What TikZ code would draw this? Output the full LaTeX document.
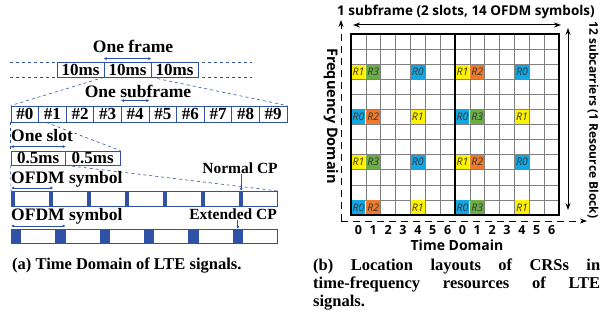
\documentclass[tikz,border=0pt]{standalone}
\usepackage{fontspec}
\setmainfont{Liberation Serif}
\setsansfont{Open Sans}
\usepackage{tikz}
\usetikzlibrary{arrows, arrows.meta, calc}
\definecolor{lteblue}{HTML}{2F52A6}
\definecolor{crsyellow}{HTML}{FFF200}
\definecolor{crsgreen}{HTML}{6AAE45}
\definecolor{crsblue}{HTML}{12A6E3}
\definecolor{crsorange}{HTML}{EE7A2C}

\begin{document}
\begin{tikzpicture}
        [
          x=1pt, y=-1pt,
          hd/.style={font=\bfseries\fontsize{17.5}{18}\selectfont, inner sep=0pt},
          msbox/.style={draw=lteblue, line width=0.8pt, minimum height=15pt, inner sep=0pt,
            font=\bfseries\fontsize{17}{18}\selectfont},
          dashline/.style={lteblue, dashed, line width=0.6pt},
          barrow/.style={lteblue, line width=0.9pt, {Latex[length=3pt,width=3pt]}-{Latex[length=3pt,width=3pt]}},
          downarrow/.style={lteblue, line width=0.9pt, -{Latex[length=3pt,width=3pt]}},
          cpbar/.style={fill=lteblue, draw=none, inner sep=0pt},
          symbox/.style={draw=lteblue, line width=0.9pt, inner sep=0pt},
          crs/.style={minimum width=14pt, minimum height=14pt, inner sep=0pt,
            font=\sffamily\itshape\fontsize{10.5}{11}\selectfont, text=black!80},
          sflabel/.style={font=\sffamily\bfseries\fontsize{13.5}{14}\selectfont, inner sep=0pt},
          bigarrow/.style={line width=1pt, -{Stealth[length=7pt,width=5pt]}},
          captext/.style={font=\bfseries\fontsize{16.5}{18}\selectfont, inner sep=0pt}
        ]
        \useasboundingbox (0,0) rectangle (600,329);
        % frame
        \node [hd] (oneframe) at (133,46) {One frame};
        \draw [dashline] (10,62) -- (252,62);
        \draw [dashline] (10,77) -- (252,77);
        \foreach \i in {0,1,2} {
            \node [msbox, minimum width=47pt, fill=white] (f\i) at (80.5+47*\i,69.5) {10ms};
        }
        \draw [barrow] ([yshift=3pt]f1.north west) -- ([yshift=3pt]f1.north east);
        % subframes
        \foreach \i in {0,...,9} {
            \node [msbox, minimum width=27.6pt, minimum height=16pt] (s\i) at (24.8+27.6*\i,114) {\#\i};
        }
        \node [hd] (onesub) at (138,91) {One subframe};
        \draw [barrow] ([yshift=5pt]s4.north west) -- ([yshift=5pt]s4.north east);
        \draw [dashline] (f1.south west) -- (s0.north west);
        \draw [dashline] (f1.south east) -- (s9.north east);
        % slots
        \foreach \i in {0,1} {
            \node [msbox, minimum width=54.5pt, minimum height=14pt] (t\i) at (38.25+54.5*\i,158) {0.5ms};
        }
        \node [hd, anchor=west] (oneslot) at (11,136) {One slot};
        \draw [barrow] ([yshift=4pt]t0.north west) -- ([yshift=4pt]t0.north east);
        \draw [dashline] ([xshift=8pt]s1.south west) -- (t1.north east);
        \draw [dashline] (s0.south west) -- (t0.north west);
        % normal CP symbols
        \foreach \i in {0,...,6} {
            \node [symbox, minimum width=38pt, minimum height=15pt, anchor=north west] (n\i) at (11+38*\i,191) {};
            \node [cpbar, minimum width=4pt, minimum height=15pt, anchor=north west] (nc\i) at (11+38*\i,191) {};
        }
        \draw [dashline] (t0.south east) -- (n6.north east);
        \draw [dashline] (t0.south west) -- (n0.north west);
        \node [hd, anchor=west] (ofdm1) at (11,179) {OFDM symbol};
        \draw [barrow] ([yshift=3pt]n0.north west) -- ([yshift=3pt]nc1.north east);
        \node [hd, font=\bfseries\fontsize{15.5}{16}\selectfont] (normalcp) at (240,168) {Normal CP};
        \draw [downarrow] (normalcp.south -| nc6) -- (nc6.north);
        % extended CP symbols
        \foreach \i in {0,...,5} {
            \node [symbox, minimum width=44.33pt, minimum height=14pt, anchor=north west] (e\i) at (11+44.33*\i,229) {};
            \node [cpbar, minimum width=10pt, minimum height=14pt, anchor=north west] (ec\i) at (11+44.33*\i,229) {};
        }
        \node [hd, anchor=west] (ofdm2) at (11,216) {OFDM symbol};
        \draw [barrow] ([yshift=3pt]e0.north west) -- ([yshift=3pt]ec1.north east);
        \node [hd, font=\bfseries\fontsize{15.5}{16}\selectfont, anchor=east] (extcp) at (277,214) {Extended CP};
        \draw [downarrow] (extcp.south -| ec5) -- (ec5.north);
        % resource grid
        \begin{scope}[shift={(351,34)}, x=14.86pt, y=-15.08pt]
            \foreach \r in {1,...,11} {
                \draw [black!50, line width=0.6pt] (0,\r) -- (14,\r);
            }
            \foreach \c in {1,...,13} {
                \draw [black!50, line width=0.6pt] (\c,0) -- (\c,12);
            }
            \foreach \c/\r/\col/\t in {0/2/crsyellow/R1, 1/2/crsgreen/R3, 4/2/crsblue/R0,
                7/2/crsyellow/R1, 8/2/crsorange/R2, 11/2/crsblue/R0,
                0/5/crsblue/R0, 1/5/crsorange/R2, 4/5/crsyellow/R1,
                7/5/crsblue/R0, 8/5/crsgreen/R3, 11/5/crsyellow/R1,
                0/8/crsyellow/R1, 1/8/crsgreen/R3, 4/8/crsblue/R0,
                7/8/crsyellow/R1, 8/8/crsorange/R2, 11/8/crsblue/R0,
                0/11/crsblue/R0, 1/11/crsorange/R2, 4/11/crsyellow/R1,
                7/11/crsblue/R0, 8/11/crsgreen/R3, 11/11/crsyellow/R1} {
                \node [crs, fill=\col] (r\c-\r) at (\c+0.5,\r+0.5) {\t};
            }
            \draw [line width=1.3pt] (0,0) rectangle (14,12);
            \draw [line width=1.3pt] (7,0) -- (7,12);
            \foreach \c in {0,...,6} {
                \node [sflabel, font=\sffamily\bfseries\fontsize{12.5}{13}\selectfont] (xa\c) at (\c+0.5,12.98) {\c};
                \node [sflabel, font=\sffamily\bfseries\fontsize{12.5}{13}\selectfont] (xb\c) at (\c+7.5,12.98) {\c};
            }
        \end{scope}
        % axes and labels
        \node [sflabel] (subtitle) at (466,12) {1 subframe (2 slots, 14 OFDM symbols)};
        \coordinate (sfl) at (353,25);
        \coordinate (sfr) at (561,25);
        \draw [line width=1pt, {Stealth[length=7pt,width=5pt]}-{Stealth[length=7pt,width=5pt]}] (sfl) -- (sfr);
        \coordinate (corner) at (341,221);
        \coordinate (ftop) at (341,20);
        \coordinate (tend) at (587,221);
        \draw [bigarrow, dash pattern=on 7pt off 5pt] (corner) -- (ftop);
        \draw [bigarrow, dash pattern=on 7pt off 5pt] (corner) -- (tend);
        \node [sflabel, font=\sffamily\bfseries\fontsize{14.5}{15}\selectfont, rotate=-90] (freq) at (331,116) {Frequency Domain};
        \coordinate (rbtop) at (568,28);
        \coordinate (rbbot) at (568,210);
        \draw [line width=1pt, {Stealth[length=7pt,width=5pt]}-{Stealth[length=7pt,width=5pt]}] (rbtop) -- (rbbot);
        \node [sflabel, font=\sffamily\bfseries\fontsize{12}{13}\selectfont, rotate=-90] (rblabel) at (593,120) {12 subcarriers (1 Resource Block)};
        \node [sflabel, font=\sffamily\bfseries\fontsize{14}{15}\selectfont] (timedom) at (457,245) {Time Domain};
        % captions
        \node [captext, anchor=west] (capa) at (12,266) {(a) Time Domain of LTE signals.};
        \node [captext, anchor=north west, text width=287pt, align=justify] (capb) at (313,259)
            {(b) Location layouts of CRSs in\linebreak time-frequency resources of LTE\linebreak signals.};
\end{tikzpicture}
\end{document}
